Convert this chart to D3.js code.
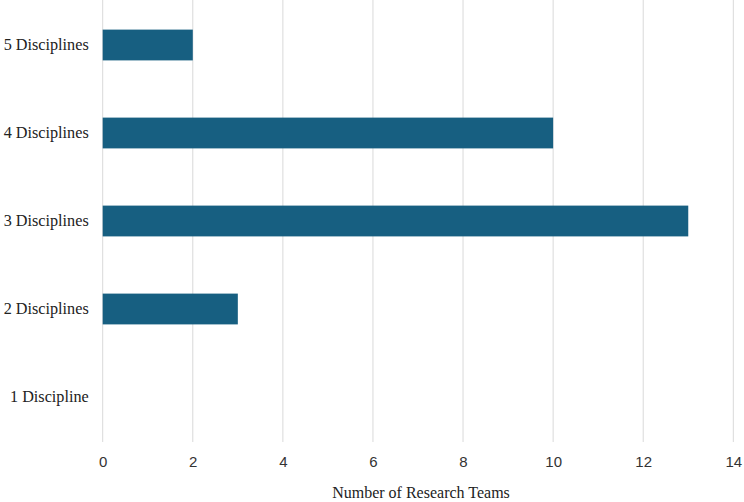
<!DOCTYPE html>
<html>
<head>
<meta charset="utf-8">
<script src="https://cdn.jsdelivr.net/npm/d3@7"></script>
<style>
  body { margin: 0; background: #fff; }
  svg { display: block; }
</style>
</head>
<body>
<div id="chart"></div>
<script>
const categories = ["5 Disciplines", "4 Disciplines", "3 Disciplines", "2 Disciplines", "1 Discipline"];
const teamCounts = [2, 10, 13, 3, 0];
const xTicks = [0, 2, 4, 6, 8, 10, 12, 14];

function drawChart() {
    const width = 744, height = 502;
    const margin = { top: 1, right: 10.7, bottom: 60, left: 102.7 };

    const svg = d3.select("#chart").append("svg")
        .attr("width", width)
        .attr("height", height);

    const x = d3.scaleLinear()
        .domain([0, 14])
        .range([margin.left, width - margin.right]);

    const y = d3.scaleBand()
        .domain(categories)
        .range([margin.top, margin.top + 440])
        .paddingInner(0.65)
        .paddingOuter(0.325);

    // gridlines
    svg.selectAll(".grid")
        .data(xTicks)
        .enter()
        .append("line")
        .attr("class", "grid")
        .attr("x1", d => x(d))
        .attr("x2", d => x(d))
        .attr("y1", 0)
        .attr("y2", 442)
        .attr("stroke", "#d9d9d9")
        .attr("stroke-width", 1);

    // bars
    svg.selectAll(".bar")
        .data(categories.map((c, i) => ({ name: c, value: teamCounts[i] })))
        .enter()
        .append("rect")
        .attr("class", "bar")
        .attr("x", x(0))
        .attr("y", d => y(d.name))
        .attr("width", d => x(d.value) - x(0))
        .attr("height", y.bandwidth())
        .attr("fill", "#175f81");

    // y axis labels
    const yAxis = d3.axisLeft(y).tickSize(0).tickPadding(14);
    const gy = svg.append("g")
        .attr("transform", `translate(${x(0)},0)`)
        .call(yAxis);
    gy.select(".domain").remove();
    gy.selectAll("text")
        .style("font-family", "'Liberation Serif', 'Times New Roman', serif")
        .style("font-size", "16.2px")
        .attr("fill", "#222");

    // x axis labels
    const xAxis = d3.axisBottom(x).tickValues(xTicks).tickSize(0).tickPadding(14);
    const gx = svg.append("g")
        .attr("transform", "translate(0,442)")
        .call(xAxis);
    gx.select(".domain").remove();
    gx.selectAll("text")
        .style("font-family", "'Liberation Sans', Arial, sans-serif")
        .style("font-size", "15px")
        .attr("fill", "#333");

    svg.append("text")
        .attr("x", 421)
        .attr("y", 498)
        .attr("text-anchor", "middle")
        .style("font-family", "'Liberation Serif', 'Times New Roman', serif")
        .style("font-size", "16px")
        .attr("fill", "#222")
        .text("Number of Research Teams");
}

window.onload = () => {
    drawChart();
};
</script>
</body>
</html>
